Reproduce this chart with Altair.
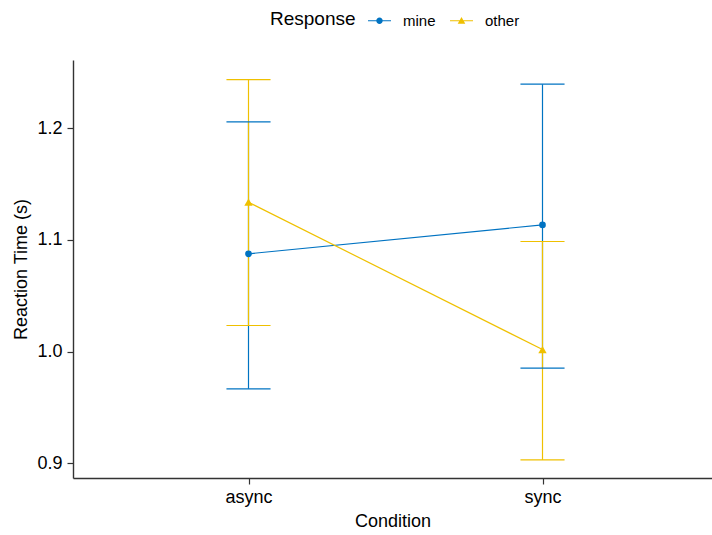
import json
import altair as alt
import pandas as pd

# Mean reaction time with error bars, by condition and response type
conditions = ["async", "sync"]
responses = ["mine", "other"]
mine_mean = [1.0875, 1.1134]
mine_low = [0.9666, 0.9851]
mine_high = [1.2056, 1.2394]
other_mean = [1.1337, 1.0018]
other_low = [1.0233, 0.9030]
other_high = [1.2435, 1.0985]

palette = ["#0073C2", "#EFC000"]

rows = []
for resp, means, lows, highs in [
    ("mine", mine_mean, mine_low, mine_high),
    ("other", other_mean, other_low, other_high),
]:
    for cond, m, lo, hi in zip(conditions, means, lows, highs):
        rows.append({"Condition": cond, "Response": resp, "mean": m, "low": lo, "high": hi})
df = pd.DataFrame(rows)

cond_js = json.dumps(conditions)
base = alt.Chart(df).transform_calculate(
    xi=f"indexof({cond_js}, datum.Condition) + 1"
).transform_calculate(
    xl="datum.xi - 0.075", xr="datum.xi + 0.075"
)

x_scale = alt.Scale(domain=[0.40306, 2.57653], nice=False, zero=False)
y_scale = alt.Scale(domain=[0.8868, 1.261], nice=False, zero=False)
color_plain = alt.Color("Response:N", scale=alt.Scale(domain=responses, range=palette), legend=None)

x_axis = alt.Axis(
    values=[1, 2],
    labelExpr=f"{cond_js}[datum.value - 1]",
    title="Condition",
    grid=False,
)
y_axis = alt.Axis(values=[0.9, 1.0, 1.1, 1.2], format=".1f", title="Reaction Time (s)", grid=False)

x_enc = alt.X("xi:Q", scale=x_scale, axis=x_axis)
y_enc = alt.Y("mean:Q", scale=y_scale, axis=y_axis)

SW = 1.2
stems = base.mark_rule(strokeWidth=SW).encode(
    x=x_enc, y=alt.Y("low:Q", scale=y_scale, axis=y_axis), y2="high:Q", color=color_plain
)
caps_low = base.mark_rule(strokeWidth=SW).encode(
    x=alt.X("xl:Q", scale=x_scale, axis=x_axis), x2="xr:Q",
    y=alt.Y("low:Q", scale=y_scale, axis=y_axis), color=color_plain
)
caps_high = base.mark_rule(strokeWidth=SW).encode(
    x=alt.X("xl:Q", scale=x_scale, axis=x_axis), x2="xr:Q",
    y=alt.Y("high:Q", scale=y_scale, axis=y_axis), color=color_plain
)
lines = base.mark_line(strokeWidth=SW).encode(
    x=x_enc, y=y_enc, color=color_plain, order="xi:Q"
)
points = base.mark_point(filled=True, opacity=1).encode(
    x=x_enc, y=y_enc, color=color_plain,
    shape=alt.Shape("Response:N", scale=alt.Scale(domain=responses, range=["circle", "triangle-up"]), legend=None),
    size=alt.Size("Response:N", scale=alt.Scale(domain=responses, range=[44, 70]), legend=None),
)

main = alt.layer(stems, caps_low, caps_high, lines, points)

# legend keys: a short line segment with the response's marker on it
mine_key = ("M-1,-0.05L1,-0.05L1,0.05L-1,0.05Z "
            "M-0.28,0A0.28,0.28 0 1,1 0.28,0A0.28,0.28 0 1,1 -0.28,0Z")
other_key = ("M-1,-0.05L1,-0.05L1,0.05L-1,0.05Z "
             "M0,-0.32L0.33,0.26L-0.33,0.26Z")

legend = alt.Legend(
    title="Response",
    orient="none",
    legendX=197,
    legendY=-51,
    direction="horizontal",
    titleOrient="left",
    titleFontSize=19,
    titleFontWeight="normal",
    titleColor="black",
    titlePadding=12,
    labelFontSize=15,
    labelColor="black",
    labelOffset=12,
    columnPadding=14,
    symbolSize=529,
    symbolOpacity=1,
    symbolStrokeWidth=0,
)
key_layer = base.mark_point(filled=True, opacity=0).encode(
    x=x_enc, y=y_enc,
    color=alt.Color("Response:N", scale=alt.Scale(domain=responses, range=palette), legend=legend),
    shape=alt.Shape("Response:N", scale=alt.Scale(domain=responses, range=[mine_key, other_key]), legend=legend),
)

chart = alt.layer(main, key_layer).resolve_scale(
    color="independent", shape="independent"
).properties(
    width=639,
    height=418,
    autosize=alt.AutoSizeParams(type="none"),
    padding={"left": 73, "top": 60, "right": 0, "bottom": 57},
).configure(
    font="Liberation Sans"
).configure_view(
    stroke=None
).configure_axis(
    domainColor="#333333",
    domainWidth=1.4,
    tickColor="#333333",
    tickWidth=1.2,
    tickSize=6,
    labelFontSize=18,
    labelColor="black",
    labelFont="Liberation Sans",
    titleFontSize=18,
    titleFontWeight="normal",
    titleColor="black",
    titleFont="Liberation Sans",
).configure_axisX(
    labelPadding=4, titlePadding=6
).configure_axisY(
    labelPadding=5, titlePadding=6
).configure_legend(
    labelFont="Liberation Sans", titleFont="Liberation Sans"
)

chart.save("out.html", embed_options={"renderer": "svg", "actions": False})
